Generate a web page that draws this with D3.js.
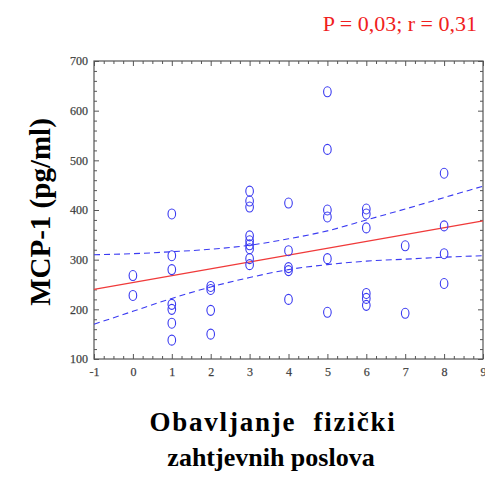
<!DOCTYPE html>
<html lang="hr">
<head>
<meta charset="UTF-8">
<title>MCP-1 vs fizički zahtjevni poslovi</title>
<script src="https://d3js.org/d3.v7.min.js"></script>
<style>
  body, html { margin: 0; padding: 0; background: #fff; overflow: hidden; }
  svg { display: block; }
  .tick text { font-family: "Liberation Serif", "Times New Roman", serif; font-size: 12px; fill: #2a2a38; stroke: #6a6a58; stroke-width: 0.25px; }
  .axis path, .axis line { stroke: #555; }
</style>
</head>
<body>
<svg></svg>
<script>
    const width = 485, height = 477;

    // data: x = category, y = MCP-1 (pg/ml)
    const pointsX = [0, 0,
      1, 1, 1, 1, 1, 1, 1,
      2, 2, 2, 2,
      3, 3, 3, 3, 3, 3, 3, 3, 3,
      4, 4, 4, 4, 4,
      5, 5, 5, 5, 5, 5,
      6, 6, 6, 6, 6, 6,
      7, 7,
      8, 8, 8, 8];
    const pointsY = [268, 228,
      392, 308, 280, 210, 200, 172, 138,
      246, 240, 198, 150,
      438, 418, 406, 348, 338, 330, 322, 302, 290,
      414, 318, 284, 278, 220,
      638, 522, 400, 386, 302, 194,
      402, 392, 364, 232, 222, 208,
      328, 192,
      474, 368, 312, 252];

    // regression line and its confidence band
    const fitX = [-1, 9];
    const fitY = [240, 378];
    const bandX = [-1, 0, 1, 2, 3, 4, 5, 6, 7, 8, 9];
    const bandUpper = [310, 312, 316, 321, 329, 342, 358, 380, 402, 425, 448];
    const bandLower = [170, 196, 222, 245, 264, 280, 290, 297, 301, 305, 308];

    const xTickValues = [-1, 0, 1, 2, 3, 4, 5, 6, 7, 8, 9];
    const yTickValues = [100, 200, 300, 400, 500, 600, 700];

    const svg = d3.select("svg").attr("width", width).attr("height", height);

    const x = d3.scaleLinear().domain([-1, 9]).range([94, 483]);
    const y = d3.scaleLinear().domain([100, 700]).range([359, 61]);

    const xMinor = d3.range(-1, 9.001, 0.25).filter(v => Math.abs(v - Math.round(v)) > 0.01);
    const yMinor = d3.range(100, 700.1, 20).filter(v => v % 100 !== 0);

    // frame
    svg.append("rect")
      .attr("x", x(-1)).attr("y", y(700))
      .attr("width", x(9) - x(-1)).attr("height", y(100) - y(700))
      .attr("fill", "#fff").attr("stroke", "#555").attr("stroke-width", 1.2);

    // inward ticks on all four sides
    function ticks(axisFn, values, size, labels, transform) {
      const a = axisFn.tickValues(values).tickSizeInner(-size).tickSizeOuter(0).tickPadding(size + 4);
      a.tickFormat(labels ? (d => String(d)) : "");
      const g = svg.append("g").attr("class", "axis").attr("transform", transform).call(a);
      g.select(".domain").remove();
      return g;
    }
    const xAxisG = ticks(d3.axisBottom(x), xTickValues, 5, true, `translate(0,${y(100)})`);
    ticks(d3.axisBottom(x), xMinor, 3, false, `translate(0,${y(100)})`);
    ticks(d3.axisTop(x), xTickValues, 5, false, `translate(0,${y(700)})`);
    ticks(d3.axisTop(x), xMinor, 3, false, `translate(0,${y(700)})`);
    const yAxisG = ticks(d3.axisLeft(y), yTickValues, 5, true, `translate(${x(-1)},0)`);
    ticks(d3.axisLeft(y), yMinor, 3, false, `translate(${x(-1)},0)`);
    ticks(d3.axisRight(y), yTickValues, 5, false, `translate(${x(9)},0)`);
    ticks(d3.axisRight(y), yMinor, 3, false, `translate(${x(9)},0)`);

    xAxisG.selectAll(".tick text").attr("transform", "translate(0,-1)");
    yAxisG.selectAll(".tick text").attr("transform", "translate(3,0)");

    // confidence band
    const band = d3.line().x((d, i) => x(bandX[i])).y(d => y(d)).curve(d3.curveMonotoneX);
    [bandUpper, bandLower].forEach(arr => {
      svg.append("path")
        .attr("d", band(arr))
        .attr("fill", "none")
        .attr("stroke", "#3b3bf2")
        .attr("stroke-width", 1.1)
        .attr("stroke-dasharray", "6,4");
    });

    // regression line
    svg.append("line")
      .attr("x1", x(fitX[0])).attr("y1", y(fitY[0]))
      .attr("x2", x(fitX[1])).attr("y2", y(fitY[1]))
      .attr("stroke", "#f03a3a").attr("stroke-width", 1.3);

    // points
    svg.append("g").selectAll("ellipse")
      .data(pointsY)
      .enter().append("ellipse")
        .attr("cx", (d, i) => x(pointsX[i]))
        .attr("cy", d => y(d))
        .attr("rx", 3.8).attr("ry", 5)
        .attr("fill", "none")
        .attr("stroke", "#3a3af0")
        .attr("stroke-width", 1.1);

    // texts
    svg.append("text")
      .attr("x", 477).attr("y", 31)
      .attr("text-anchor", "end")
      .style("font-family", "'Liberation Serif', 'Times New Roman', serif")
      .style("font-size", "22px")
      .attr("fill", "#f02020")
      .text("P = 0,03; r = 0,31");

    svg.append("text")
      .attr("transform", "translate(50,212) rotate(-90)")
      .attr("text-anchor", "middle")
      .style("font-family", "'Liberation Serif', 'Times New Roman', serif")
      .style("font-size", "29px")
      .style("font-weight", "bold")
      .text("MCP-1 (pg/ml)");

    const xTitle = svg.append("text")
      .attr("text-anchor", "middle")
      .style("font-family", "'Liberation Serif', 'Times New Roman', serif")
      .style("font-weight", "bold")
      .attr("xml:space", "preserve");
    xTitle.append("tspan").attr("x", 273).attr("y", 431)
      .style("font-size", "27px")
      .style("letter-spacing", "1.8px")
      .text("Obavljanje  fizički");
    xTitle.append("tspan").attr("x", 271).attr("y", 466)
      .style("font-size", "26px")
      .text("zahtjevnih poslova");
</script>
</body>
</html>
